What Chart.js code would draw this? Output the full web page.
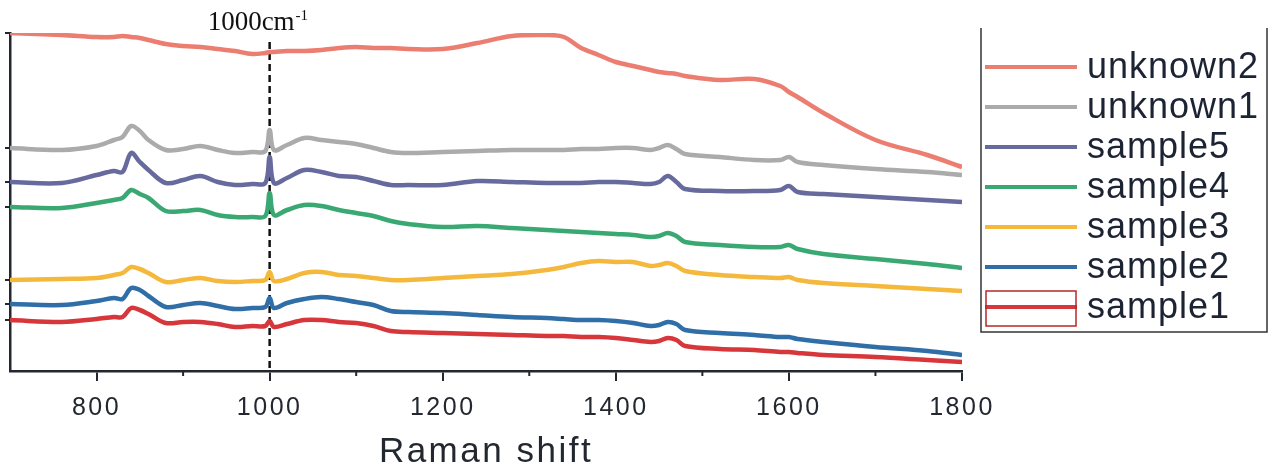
<!DOCTYPE html>
<html lang="en">
<head>
<meta charset="UTF-8">
<title>Raman spectra</title>
<script src="https://cdn.jsdelivr.net/npm/chart.js@4.4.1/dist/chart.umd.min.js"></script>
<style>
  html, body { margin: 0; padding: 0; background: #fff; }
</style>
</head>
<body>
<canvas id="raman" width="1277" height="468"></canvas>
<script>
// Raman shift grid (cm-1), shared by every spectrum
const shift = [700,760,800,820,830,840,850,860,880,900,920,940,960,980,995,1000,1005,1020,1040,1060,
               1080,1100,1120,1140,1160,1200,1240,1280,1320,1340,1360,1380,1400,1420,1440,1450,1460,1470,1480,1520,
               1560,1590,1600,1610,1640,1700,1760,1800];

// intensities (a.u., offset for stacking)
const unknown2 = [338,336,334,334,335,334,333,331,327,325,324,322,320,317,318,319,319,320,320,321,
                  323,324,323,323,322,322,328,335,336,334,323,316,309,305,301,299,298,297,295,291,
                  292,285,279,274,258,231,216,204];
const unknown1 = [223,221,225,231,234,245,240,231,221,222,225,221,218,219,220,241,221,226,233,231,
                  229,227,223,219,218,219,220,221,221,221,222,222,223,223,221,223,226,222,217,214,
                  211,211,214,209,206,202,199,196];
const sample5  = [189,188,196,200,199,218,209,201,188,191,195,189,186,187,188,214,188,193,201,199,
                  195,194,190,186,186,186,190,189,188,188,188,189,189,188,187,189,195,189,182,180,
                  180,181,185,179,177,174,171,169];
const sample4  = [164,163,168,171,173,181,177,173,160,160,161,156,154,154,155,178,156,161,166,165,
                  161,158,155,150,147,144,145,143,141,140,139,138,137,136,134,135,138,135,129,126,
                  124,124,126,122,117,112,107,103];
const sample3  = [91,92,93,96,98,104,102,98,89,91,93,90,89,90,91,99,90,92,98,99,
                  96,95,93,91,91,93,95,97,101,104,108,110,109,109,105,106,108,105,100,96,
                  94,93,94,91,88,85,82,80];
const sample2  = [67,66,70,73,72,83,81,75,64,66,68,65,62,63,64,73,63,68,72,74,
                  72,69,66,60,59,58,56,54,53,52,51,51,50,48,45,46,49,47,41,38,
                  36,34,34,32,29,24,20,16];
const sample1  = [51,49,52,54,54,63,61,57,48,49,49,47,44,45,45,50,44,47,51,51,
                  49,48,45,40,39,38,37,36,35,35,34,34,33,31,29,30,33,31,25,22,
                  21,19,19,18,16,14,11,9];

const seriesNames  = ['unknown2','unknown1','sample5','sample4','sample3','sample2','sample1'];
const seriesValues = [unknown2, unknown1, sample5, sample4, sample3, sample2, sample1];
const seriesColors = ['#ec7d71','#ababab','#676a9c','#3aa872','#f4b93c','#2f6ea6','#d7363b'];

const xTickLabels = [800,1000,1200,1400,1600,1800];
const xMinorTicks = [900,1100,1300,1500,1700];
const markerShift = 1000;

const ink = '#232830';

// dashed 1000 cm-1 marker, minor ticks, label and the boxed legend
const extras = {
  id: 'extras',
  beforeDraw(chart) {
    chart.ctx.letterSpacing = '2.5px';
  },
  beforeDatasetsDraw(chart) {
    const {ctx, chartArea, scales} = chart;
    const x = scales.x.getPixelForValue(markerShift);
    ctx.save();
    ctx.strokeStyle = '#111';
    ctx.lineWidth = 2.5;
    ctx.setLineDash([7, 4]);
    ctx.beginPath();
    ctx.moveTo(x, 42);
    ctx.lineTo(x, chartArea.bottom);
    ctx.stroke();
    ctx.restore();
  },
  afterDraw(chart) {
    const {ctx, chartArea, scales} = chart;
    ctx.save();
    ctx.letterSpacing = '0px';

    // minor ticks on the x axis
    ctx.strokeStyle = ink;
    ctx.lineWidth = 2;
    xMinorTicks.forEach(v => {
      const x = scales.x.getPixelForValue(v);
      ctx.beginPath();
      ctx.moveTo(x, chartArea.bottom);
      ctx.lineTo(x, chartArea.bottom + 5);
      ctx.stroke();
    });

    // 1000cm-1 label
    const lx = scales.x.getPixelForValue(markerShift) - 62;
    ctx.fillStyle = '#111';
    ctx.textBaseline = 'alphabetic';
    ctx.font = '27px "Liberation Serif"';
    ctx.fillText('1000cm', lx, 30);
    const w = ctx.measureText('1000cm').width;
    ctx.font = '15px "Liberation Serif"';
    ctx.fillText('-1', lx + w + 1, 20);

    // legend box (open at the top)
    ctx.strokeStyle = '#333';
    ctx.lineWidth = 1.5;
    ctx.beginPath();
    ctx.moveTo(981, 28);
    ctx.lineTo(981, 332);
    ctx.lineTo(1267, 332);
    ctx.lineTo(1267, 28);
    ctx.stroke();

    ctx.font = '36px "Liberation Sans"';
    ctx.letterSpacing = '1px';
    ctx.textBaseline = 'middle';
    chart.data.datasets.forEach((ds, i) => {
      const y = 67 + i * 40;
      ctx.strokeStyle = ds.borderColor;
      ctx.lineWidth = 4;
      ctx.beginPath();
      ctx.moveTo(985, y);
      ctx.lineTo(1077, y);
      ctx.stroke();
      ctx.fillStyle = '#1c2333';
      ctx.fillText(ds.label, 1087, y + 1);
    });
    // highlight frame round the sample1 key
    ctx.strokeStyle = '#b52a2a';
    ctx.lineWidth = 1.5;
    ctx.strokeRect(986, 291, 90, 35);
    ctx.restore();
  }
};

new Chart(document.getElementById('raman'), {
  type: 'line',
  data: {
    datasets: seriesNames.map((name, i) => ({
      label: name,
      data: shift.map((s, j) => ({ x: s, y: seriesValues[i][j] })),
      borderColor: seriesColors[i],
      borderWidth: 4.5,
      pointRadius: 0,
      tension: 0.35,
      fill: false
    }))
  },
  options: {
    responsive: false,
    animation: false,
    layout: { padding: { top: 33, right: 315, left: 0, bottom: 0 } },
    plugins: { legend: { display: false }, tooltip: { enabled: false } },
    scales: {
      x: {
        type: 'linear',
        min: 700,
        max: 1800,
        afterBuildTicks: s => { s.ticks = xTickLabels.map(v => ({ value: v })); },
        afterFit: s => { s.height = 97; },
        ticks: {
          autoSkip: false,
          maxRotation: 0,
          padding: 12,
          color: ink,
          font: { family: '"Liberation Sans"', size: 25 },
          callback: v => String(v)
        },
        grid: { drawOnChartArea: false, drawTicks: true, tickLength: 10, color: ink, lineWidth: 2 },
        border: { display: true, color: ink, width: 2.5 },
        title: {
          display: true,
          text: 'Raman shift',
          color: ink,
          font: { family: '"Liberation Sans"', size: 35 },
          padding: { top: 0, bottom: -5 }
        }
      },
      y: {
        type: 'linear',
        min: 0,
        max: 338,
        afterBuildTicks: s => { s.ticks = seriesValues.map(a => ({ value: a[0] })); },
        afterFit: s => { s.width = 10; },
        ticks: { display: false },
        grid: { drawOnChartArea: false, drawTicks: true, tickLength: 5, color: ink, lineWidth: 2 },
        border: { display: true, color: ink, width: 2.5 }
      }
    }
  },
  plugins: [extras]
});
</script>
</body>
</html>
